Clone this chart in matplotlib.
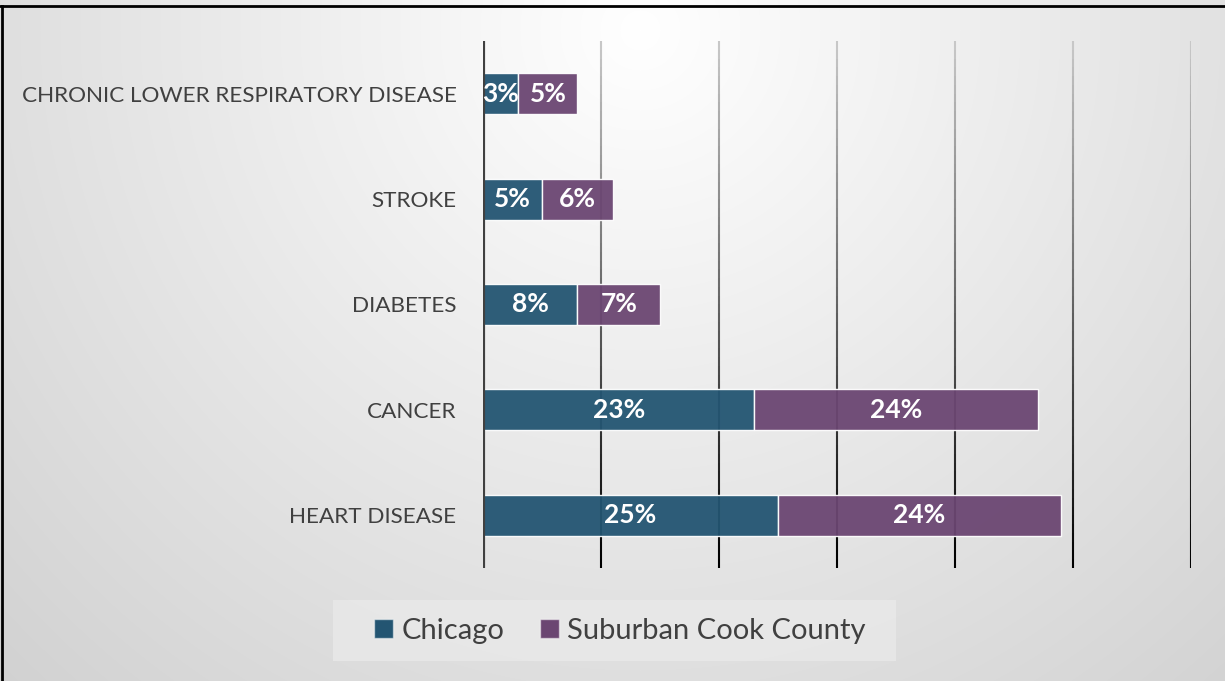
import numpy as np
import matplotlib
matplotlib.use("Agg")
import matplotlib.pyplot as plt
from matplotlib.collections import LineCollection
from matplotlib.lines import Line2D
from matplotlib.patches import Patch, Rectangle

categories = ["HEART DISEASE", "CANCER", "DIABETES", "STROKE", "CHRONIC LOWER RESPIRATORY DISEASE"]
chicago = [25, 23, 8, 5, 3]
suburban = [24, 24, 7, 6, 5]
series_names = ["Chicago", "Suburban Cook County"]
xticks = [0, 10, 20, 30, 40, 50, 60]

c_chi = "#235572"
c_sub = "#6b4672"
font = "Lato"

W, H = 1225, 681
fig = plt.figure(figsize=(W / 100, H / 100), dpi=100)

# background radial gradient
bg = fig.add_axes([0, 0, 1, 1], zorder=-10)
yy, xx = np.mgrid[0:H, 0:W]
d = np.hypot(xx - 640, yy - 30)
val = np.clip(255 - 0.05 * d, 0, 255) / 255.0
bg.imshow(np.dstack([val, val, val]), aspect="auto", extent=[0, W, H, 0])
bg.set_axis_off()

ax = fig.add_axes([483 / W, 1 - 568 / H, (1191 - 483) / W, (568 - 41) / H])
ax.patch.set_alpha(0)
y = np.arange(len(categories))
bh = 0.39
ax.barh(y, chicago, height=bh, color=c_chi, alpha=0.95, edgecolor=(1, 1, 1, 0.5), linewidth=1, zorder=3)
ax.barh(y, suburban, left=chicago, height=bh, color=c_sub, alpha=0.95, edgecolor=(1, 1, 1, 0.5), linewidth=1, zorder=3)

for i in range(len(categories)):
    ax.text(chicago[i] / 2, y[i], f"{chicago[i]}%", ha="center", va="center", color="white",
            fontsize=19, fontweight="bold", family=font, zorder=5)
    ax.text(chicago[i] + suburban[i] / 2, y[i], f"{suburban[i]}%", ha="center", va="center", color="white",
            fontsize=19, fontweight="bold", family=font, zorder=5)

ax.set_xlim(0, 60)
ax.set_ylim(-0.5, len(categories) - 0.5)

# gradient gridlines
n = 60
tvals = np.linspace(-0.5, len(categories) - 0.5, n + 1)
for xv in xticks[1:]:
    segs = [[(xv, tvals[k]), (xv, tvals[k + 1])] for k in range(n)]
    frac = np.linspace(0, 1, n)  # 0 bottom -> 1 top
    cols = [(0.78 * f, 0.78 * f, 0.78 * f, 1) for f in frac]
    lc = LineCollection(segs, colors=cols, linewidths=1.5, zorder=2)
    ax.add_collection(lc)
ax.axvline(0, color="#404040", lw=3, zorder=4)

for s in ax.spines.values():
    s.set_visible(False)
ax.set_xticks([])
ax.set_yticks(y)
ax.set_yticklabels(categories, family=font, fontsize=16.2, color="#404040")
ax.tick_params(axis="y", length=0, pad=19)

# legend box
fig.add_artist(Rectangle((333 / W, 1 - 661 / H), (896 - 333) / W, 61 / H, transform=fig.transFigure,
                         facecolor="#e8e8e8", edgecolor="none", alpha=0.9, zorder=1))
handles = [Patch(facecolor=c_chi, edgecolor=(1, 1, 1, 0.5)), Patch(facecolor=c_sub, edgecolor=(1, 1, 1, 0.5))]
leg = fig.legend(handles, series_names, loc="center", bbox_to_anchor=(620 / W, 1 - 630.5 / H), ncol=2,
                 frameon=False, prop={"family": font, "size": 21},
                 handlelength=0.65, handleheight=0.65, handletextpad=0.3, columnspacing=1.2,
                 borderpad=0.6, borderaxespad=0, labelcolor="#404040")
leg.set_zorder(2)

# border (top and left)
fig.add_artist(Line2D([1.5 / W, 1.5 / W], [0, 1 - 6 / H], color="black", lw=2, transform=fig.transFigure))
fig.add_artist(Line2D([0, 1], [1 - 6 / H, 1 - 6 / H], color="black", lw=2, transform=fig.transFigure))

fig.savefig("out.png", dpi=100)
